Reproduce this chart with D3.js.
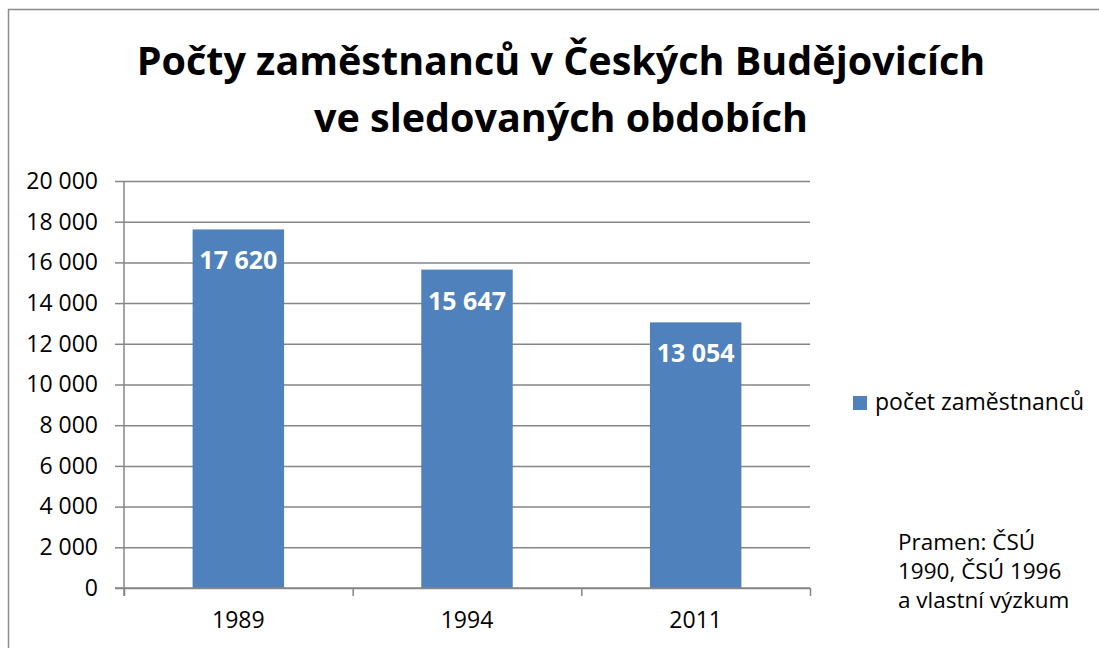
<!DOCTYPE html>
<html>
<head>
<meta charset="utf-8">
<script src="https://cdn.jsdelivr.net/npm/d3@7/dist/d3.min.js"></script>
<style>
  body { margin: 0; background: #fff; }
  text { font-family: "Open Sans", sans-serif; }
</style>
</head>
<body>
<script>
// DATA

var years = ["1989", "1994", "2011"];
var employees = [17620, 15647, 13054];
var yTicks = [0, 2000, 4000, 6000, 8000, 10000, 12000, 14000, 16000, 18000, 20000];
var titleLines = ["Počty zaměstnanců v Českých Budějovicích", "ve sledovaných obdobích"];
var seriesName = "počet zaměstnanců";
var sourceLines = ["Pramen: ČSÚ", "1990, ČSÚ 1996", "a vlastní výzkum"];

// CHART STRUCTURE

var svgWidth = 1099;
var svgHeight = 648;
var plot = {left: 124, top: 181, right: 810, bottom: 588};

var svg = d3.select("body")
  .append("svg")
  .attr("width", svgWidth)
  .attr("height", svgHeight);

// outer frame
svg.append("rect")
  .attr("x", 8.5).attr("y", 9.5)
  .attr("width", 1200).attr("height", 800)
  .attr("fill", "none")
  .attr("stroke", "#8c8c8c")
  .attr("stroke-width", 1.5);

// TITLE

var title = svg.append("text")
  .attr("text-anchor", "middle")
  .attr("font-weight", "bold")
  .attr("font-size", 39.5);

title.selectAll("tspan")
  .data(titleLines)
  .enter()
  .append("tspan")
  .attr("x", 561)
  .attr("y", (d, i) => 75 + i * 57)
  .text(d => d);

// SCALES

var x = d3.scaleBand()
  .domain(years)
  .range([plot.left, plot.right])
  .paddingInner(0.6)
  .paddingOuter(0.3);

var xEdges = d3.scaleLinear()
  .domain([0, years.length])
  .range([plot.left, plot.right]);

var y = d3.scaleLinear()
  .domain([0, 20000])
  .range([plot.bottom, plot.top]);

var fmt = d3.formatLocale({decimal: ",", thousands: "\u00a0", grouping: [3], currency: ["", ""]}).format(",d");

// GRIDLINES

svg.append("g")
  .attr("class", "grid")
  .attr("transform", `translate(${plot.left}, 0)`)
  .call(d3.axisLeft(y).tickValues(yTicks).tickSize(-(plot.right - plot.left)).tickFormat(""))
  .call(g => g.select(".domain").remove())
  .call(g => g.selectAll("line").attr("stroke", "#868686").attr("stroke-width", 1.5));

// Y AXIS

svg.append("g")
  .attr("transform", `translate(${plot.left}, 0)`)
  .call(d3.axisLeft(y).tickValues(yTicks).tickSize(9).tickPadding(17).tickFormat(fmt))
  .call(g => g.select(".domain").remove())
  .call(g => g.selectAll("line").attr("stroke", "#868686").attr("stroke-width", 1.5))
  .call(g => g.selectAll("text").attr("font-size", 23).attr("fill", "#000")
    .attr("font-family", "'Open Sans', sans-serif"));

// BARS

svg.selectAll("rect.bar")
  .data(employees)
  .enter()
  .append("rect")
  .attr("class", "bar")
  .attr("x", (d, i) => x(years[i]))
  .attr("y", d => y(d))
  .attr("width", x.bandwidth())
  .attr("height", d => y(0) - y(d))
  .attr("fill", "#4f81bd");

// axis lines on top of bars
svg.append("line")
  .attr("x1", plot.left).attr("x2", plot.left)
  .attr("y1", plot.top).attr("y2", plot.bottom + 8)
  .attr("stroke", "#868686").attr("stroke-width", 1.5);

svg.append("line")
  .attr("x1", plot.left - 9).attr("x2", plot.right)
  .attr("y1", plot.bottom).attr("y2", plot.bottom)
  .attr("stroke", "#868686").attr("stroke-width", 1.5);

// X AXIS

svg.append("g")
  .attr("transform", `translate(0, ${plot.bottom})`)
  .call(d3.axisBottom(xEdges).tickValues(d3.range(years.length + 1)).tickSize(8).tickFormat(""))
  .call(g => g.select(".domain").remove())
  .call(g => g.selectAll("line").attr("stroke", "#868686").attr("stroke-width", 1.5));

svg.append("g")
  .attr("transform", `translate(0, ${plot.bottom})`)
  .call(d3.axisBottom(x).tickSize(0).tickPadding(24))
  .call(g => g.select(".domain").remove())
  .call(g => g.selectAll("text").attr("font-size", 23).attr("fill", "#000")
    .attr("font-family", "'Open Sans', sans-serif"));

// DATA LABELS

svg.selectAll("text.value")
  .data(employees)
  .enter()
  .append("text")
  .attr("class", "value")
  .attr("x", (d, i) => x(years[i]) + x.bandwidth() / 2)
  .attr("y", d => y(d) + 40)
  .attr("text-anchor", "middle")
  .attr("font-weight", "bold")
  .attr("font-size", 25)
  .attr("fill", "#fff")
  .text(d => fmt(d));

// LEGEND

var legend = svg.append("g").attr("transform", "translate(853, 396)");

legend.append("rect")
  .attr("width", 14).attr("height", 14)
  .attr("fill", "#4f81bd");

legend.append("text")
  .attr("x", 22).attr("y", 14)
  .attr("font-size", 23)
  .text(seriesName);

// SOURCE NOTE

svg.append("text")
  .attr("font-size", 22.5)
  .selectAll("tspan")
  .data(sourceLines)
  .enter()
  .append("tspan")
  .attr("x", 898)
  .attr("y", (d, i) => 550 + i * 29)
  .text(d => d);
</script>
</body>
</html>
